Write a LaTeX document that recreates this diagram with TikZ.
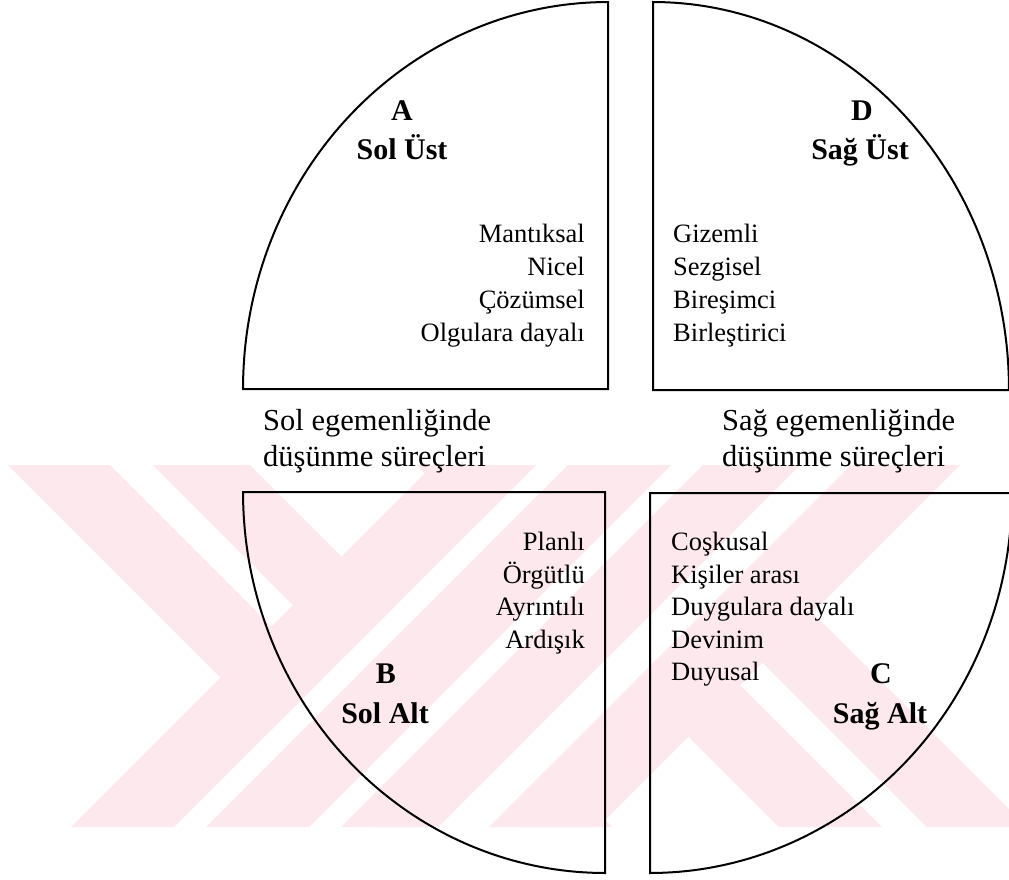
\documentclass[tikz,border=0pt]{standalone}
\usepackage{fontspec}
\setmainfont{Liberation Serif}
\definecolor{wm}{RGB}{253,233,237}
\begin{document}
\begin{tikzpicture}[x=1pt,y=-1pt,
  sector/.style={draw=black, line width=2pt, line join=miter},
  wmfill/.style={fill=wm, draw=none},
  wmgap/.style={fill=white, draw=none},
  title/.style={font=\bfseries\fontsize{30}{36}\selectfont, anchor=base, inner sep=0pt},
  itemr/.style={font=\fontsize{26.5}{30}\selectfont, anchor=base east, inner sep=0pt},
  iteml/.style={font=\fontsize{26.5}{30}\selectfont, anchor=base west, inner sep=0pt},
  lbl/.style={font=\fontsize{30.5}{36}\selectfont, anchor=base west, inner sep=0pt}]
\useasboundingbox (0,0) rectangle (1009,879);
\fill[white] (0,0) rectangle (1009,879);
\begin{scope}
\clip (0,0) rectangle (1009,879);
% watermark
\begin{scope}
\clip (0,465) rectangle (1009,827);
% "\" stripes
\fill[wmfill] (8,465) -- (110,465) -- (472,827) -- (370,827) -- cycle;
\fill[wmfill] (153,465) -- (250,465) -- (612,827) -- (515,827) -- cycle;
\fill[wmfill] (417,465) -- (520,465) -- (882,827) -- (779,827) -- cycle;
\fill[wmfill] (565,465) -- (665,465) -- (1027,827) -- (927,827) -- cycle;
% gaps between "/" stripes
\fill[wmgap] (536,465) -- (568,465) -- (206,827) -- (174,827) -- cycle;
\fill[wmgap] (671,465) -- (703,465) -- (341,827) -- (309,827) -- cycle;
\fill[wmgap] (800,465) -- (851,465) -- (489,827) -- (438,827) -- cycle;
% "/" stripes
\fill[wmfill] (433,465) -- (536,465) -- (174,827) -- (71,827) -- cycle;
\fill[wmfill] (568,465) -- (671,465) -- (309,827) -- (206,827) -- cycle;
\fill[wmfill] (703,465) -- (800,465) -- (438,827) -- (341,827) -- cycle;
\fill[wmfill] (851,465) -- (960,465) -- (598,827) -- (489,827) -- cycle;
\end{scope}
% sectors
\draw[sector] plot[domain=0:90, samples=80] ({608-365*cos(\x)},{389-387*sin(\x)}) -- (608,389) -- cycle;
\draw[sector] plot[domain=90:0, samples=80] ({653+356*cos(\x)},{390-388*sin(\x)}) -- (653,390) -- cycle;
\draw[sector] plot[domain=0:90, samples=80] ({605-362*cos(\x)},{492+381*sin(\x)}) -- (605,492) -- cycle;
\draw[sector] plot[domain=0:90, samples=80] ({650+362*cos(\x)},{493+380*sin(\x)}) -- (650,493) -- cycle;
\end{scope}
% A
\node[title] (tA) at (402,120) {A};
\node[title] (tAn) at (402,159) {Sol Üst};
\node[itemr] (a1) at (585,242) {Mantıksal};
\node[itemr] (a2) at (585,275) {Nicel};
\node[itemr] (a3) at (585,308) {Çözümsel};
\node[itemr] (a4) at (585,341) {Olgulara dayalı};
% D
\node[title] (tD) at (862,120) {D};
\node[title] (tDn) at (860,159) {Sağ Üst};
\node[iteml] (d1) at (673,242) {Gizemli};
\node[iteml] (d2) at (673,275) {Sezgisel};
\node[iteml] (d3) at (673,308) {Bireşimci};
\node[iteml] (d4) at (673,341) {Birleştirici};
% middle labels
\node[lbl] (l1) at (263,430) {Sol egemenliğinde};
\node[lbl] (l2) at (263,466) {düşünme süreçleri};
\node[lbl] (r1) at (722,430) {Sağ egemenliğinde};
\node[lbl] (r2) at (722,466) {düşünme süreçleri};
% B
\node[itemr] (b1) at (585,550) {Planlı};
\node[itemr] (b2) at (585,583) {Örgütlü};
\node[itemr] (b3) at (585,615) {Ayrıntılı};
\node[itemr] (b4) at (585,648) {Ardışık};
\node[title] (tB) at (386,683) {B};
\node[title] (tBn) at (385,723) {Sol Alt};
% C
\node[iteml] (c1) at (671,550) {Coşkusal};
\node[iteml] (c2) at (671,583) {Kişiler arası};
\node[iteml] (c3) at (671,615) {Duygulara dayalı};
\node[iteml] (c4) at (671,648) {Devinim};
\node[iteml] (c5) at (671,680) {Duyusal};
\node[title] (tC) at (881,683) {C};
\node[title] (tCn) at (880,723) {Sağ Alt};
\end{tikzpicture}
\end{document}
